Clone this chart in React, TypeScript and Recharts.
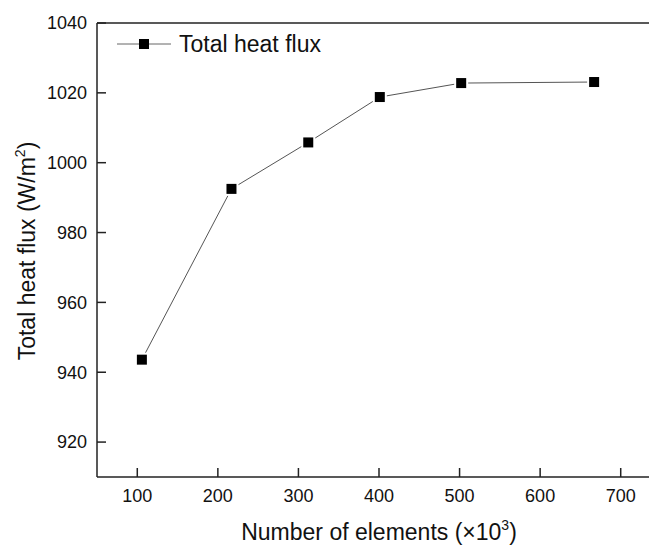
import React from 'react';
import {
  LineChart,
  Line,
  XAxis,
  YAxis,
  ReferenceLine,
  Legend,
  Label,
} from 'recharts';

const elements = [105.7, 216.9, 312.2, 401, 502, 667];
const heatFlux = [943.6, 992.5, 1005.8, 1018.8, 1022.8, 1023.1];
const xTicks = [100, 200, 300, 400, 500, 600, 700];
const yTicks = [920, 940, 960, 980, 1000, 1020, 1040];

const data = elements.map((e, i) => ({ elements: e, flux: heatFlux[i] }));

const FONT = 'Arial, "Liberation Sans", sans-serif';
const INK = '#111';

const SquareDot = (props: any) => {
  const { cx, cy } = props;
  if (cx == null || cy == null) return null;
  return (
    <g>
      <rect x={cx - 7} y={cy - 7} width={14} height={14} fill="#fff" />
      <rect x={cx - 5} y={cy - 5} width={10} height={10} fill="#000" />
    </g>
  );
};

const XTitle = (props: any) => {
  const { viewBox } = props;
  const cx = viewBox.x + viewBox.width / 2;
  const y = viewBox.y + 63;
  return (
    <text x={cx} y={y} textAnchor="middle" fontSize={23} fontFamily={FONT} fill={INK}>
      Number of elements (×10
      <tspan dy={-10} fontSize={14}>3</tspan>
      <tspan dy={10}>)</tspan>
    </text>
  );
};

const YTitle = (props: any) => {
  const { viewBox } = props;
  const cy = viewBox.y + viewBox.height / 2 + 1;
  const x = 35;
  return (
    <text
      x={x}
      y={cy}
      textAnchor="middle"
      fontSize={23}
      fontFamily={FONT}
      fill={INK}
      transform={`rotate(-90, ${x}, ${cy})`}
    >
      Total heat flux (W/m
      <tspan dy={-10} fontSize={14}>2</tspan>
      <tspan dy={10}>)</tspan>
    </text>
  );
};

const LegendBox = () => (
  <div style={{ display: 'flex', alignItems: 'center', fontFamily: FONT }}>
    <svg width={56} height={20} style={{ display: 'block' }}>
      <line x1={0} y1={10} x2={54} y2={10} stroke="#666" strokeWidth={1} />
      <rect x={22} y={5} width={10} height={10} fill="#000" />
    </svg>
    <span style={{ fontSize: 23, color: INK, marginLeft: 6, lineHeight: '20px' }}>
      Total heat flux
    </span>
  </div>
);

export default function App() {
  return (
    <div
      style={{
        position: 'absolute',
        left: 0,
        top: 0,
        width: 649,
        height: 545,
        overflow: 'hidden',
        background: '#fff',
      }}
    >
      <LineChart
        width={661}
        height={545}
        data={data}
        margin={{ top: 23, right: 0, bottom: 8, left: 0 }}
      >
        <XAxis
          dataKey="elements"
          type="number"
          domain={[50, 750]}
          ticks={xTicks}
          height={60}
          tickSize={-9}
          tickMargin={21}
          tick={{ fontSize: 18, fill: INK, fontFamily: FONT }}
          axisLine={{ stroke: '#222', strokeWidth: 1.5 }}
          tickLine={{ stroke: '#222', strokeWidth: 1.5 }}
        >
          <Label content={XTitle} />
        </XAxis>
        <YAxis
          type="number"
          domain={[910, 1040]}
          ticks={yTicks}
          width={97}
          tickSize={-9}
          tickMargin={19}
          tick={{ fontSize: 18, fill: INK, fontFamily: FONT }}
          axisLine={{ stroke: '#222', strokeWidth: 1.5 }}
          tickLine={{ stroke: '#222', strokeWidth: 1.5 }}
        >
          <Label content={YTitle} />
        </YAxis>
        <ReferenceLine y={1040} stroke="#222" strokeWidth={1.5} />
        <Legend
          layout="horizontal"
          verticalAlign="middle"
          align="center"
          content={LegendBox}
          wrapperStyle={{ position: 'absolute', top: 34, left: 117, width: 'auto' }}
        />
        <Line
          dataKey="flux"
          stroke="#555"
          strokeWidth={1}
          dot={SquareDot}
          activeDot={false}
          isAnimationActive={false}
        />
      </LineChart>
    </div>
  );
}
